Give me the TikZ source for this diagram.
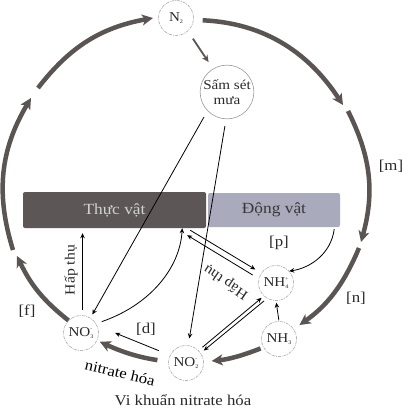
\documentclass[tikz,border=0pt]{standalone}
\usepackage{fontspec}
\setmainfont{Liberation Serif}[FakeStretch=1.12]
\usetikzlibrary{arrows.meta,calc}
\definecolor{arccol}{HTML}{5A5552}
\definecolor{plantcol}{HTML}{5C5756}
\definecolor{animalcol}{HTML}{A9AABC}
\definecolor{ringcol}{HTML}{9A9A9A}
\definecolor{txtcol}{HTML}{2A2A2A}
\newcommand\chemion[2]{\makebox[0pt][l]{\raisebox{6pt}{\fontsize{5}{5}\selectfont #1}}\raisebox{-2pt}{\fontsize{5.5}{5.5}\selectfont #2}}
\begin{document}
\begin{tikzpicture}[x=1pt,y=-1pt,font=\fontsize{15}{17}\selectfont,text=txtcol,
  bigarrow/.style={draw=arccol,line width=4.5pt,-{Stealth[length=11pt,width=11pt,inset=3pt]}},
  thinarrow/.style={draw=black,line width=0.8pt,-{Stealth[length=5pt,width=4.5pt]}},
  species/.style={circle,draw=ringcol,dash pattern=on 3pt off 1pt on 0.8pt off 1pt,line width=0.5pt,minimum size=35pt,inner sep=0pt,fill=white,font=\fontsize{13.5}{15}\selectfont},
  lbl/.style={font=\fontsize{15}{17}\selectfont}]
\useasboundingbox (0,0) rectangle (419,409);
\fill[white] (0,0) rectangle (419,409);

% organism boxes
\node[fill=plantcol,rounded corners=2pt,minimum width=183pt,minimum height=36pt,inner sep=0pt,text=white!82!black,font=\fontsize{15.5}{17}\selectfont] (plants) at (114.5,210) {Thực vật};
\node[fill=animalcol,rounded corners=2pt,minimum width=132pt,minimum height=34pt,inner sep=0pt,text=black!78,font=\fontsize{15.5}{17}\selectfont] (animals) at (274,210) {Động vật};

% species
\node[species] (n2) at (176,18) {N\raisebox{-2pt}{\fontsize{5.5}{5.5}\selectfont 2}};
\node[circle,draw=ringcol,line width=0.6pt,minimum size=53pt,inner sep=0pt,align=center,font=\fontsize{13.5}{15.5}\selectfont] (rain) at (227,92) {Sấm sét\\mưa};
\node[species] (no3) at (81,333) {NO\chemion{-}{3}};
\node[species] (no2) at (186,363) {NO\chemion{-}{2}};
\node[species] (nh3) at (279,339) {NH\chemion{}{3}};
\node[species] (nh4) at (276,283) {NH\chemion{+}{4}};

% free points of the big cycle
\coordinate (c1) at (17,256);
\coordinate (c2) at (13,250);
\coordinate (c3) at (31,98);
\coordinate (c4) at (38,88);
\coordinate (c5) at (153,18);
\coordinate (c6) at (343,105);
\coordinate (c7) at (348,111);
\coordinate (c8) at (361,242);
\coordinate (c9) at (359,248);

% big cycle
\draw[bigarrow] (no3.135) to[bend left=13] (c1);
\draw[bigarrow] (c2) to[bend left=24] (c3);
\draw[bigarrow] (c4) to[bend left=21] (c5);
\draw[bigarrow,shorten <=9pt] (n2.-6) to[bend left=27] (c6);
\draw[bigarrow] (c7) to[bend left=21] (c8);
\draw[bigarrow,shorten >=7pt] (c9) to[bend left=16] (nh3.34);
\draw[bigarrow,shorten <=3pt,shorten >=8pt] (nh3.208) to[bend left=8] (no2.4);
\draw[bigarrow,shorten <=11pt,shorten >=3pt] (no2.176) to[bend left=8] (no3.-25);

% thin connectors
\draw[draw=arccol,line width=1.8pt,-{Stealth[length=7pt,width=6.5pt]},shorten <=9pt,shorten >=8pt] (n2.-48) -- (rain.121);
\draw[thinarrow,shorten <=7pt,shorten >=4pt] (rain.224) -- (no3.58);
\draw[thinarrow,shorten <=7pt,shorten >=7pt] (rain.268) -- (no2.83);
\draw[thinarrow,shorten <=5pt,shorten >=5pt] (no3.85) -- (no3.85 |- plants.south);
\draw[thinarrow,shorten <=6pt] (no3.32) .. controls (150,305) and (180,268) .. ($(plants.south east)+(-24,0)$);
\draw[thinarrow,shorten >=7pt] ($(plants.south east)+(-16,2)$) -- (nh4.146);
\draw[thinarrow,shorten <=7pt] (nh4.166) -- ($(plants.south east)+(-19,7)$);
\draw[thinarrow] ($(animals.south east)+(-6,2)$) .. controls (331,254) and (310,268) .. (nh4.42);
\draw[thinarrow,shorten <=1pt,shorten >=2pt] (nh3.north) -- (nh4.south);
\draw[thinarrow,shorten <=5pt,shorten >=3pt] (no2.45) -- (nh4.227);
\draw[thinarrow,shorten <=4pt,shorten >=4pt] (nh4.240) -- (no2.34);
\draw[thinarrow,shorten <=12pt] (no2.154) -- ($(no3.east)+(16.5,0)$);

% labels
\node[lbl] (lm) at (391,166) {[m]};
\node[lbl] (ln) at (356,298) {[n]};
\node[lbl] (lp) at (279,243) {[p]};
\node[lbl] (lf) at (27,311) {[f]};
\node[lbl] (ld) at (146,329) {[d]};
\node[lbl,rotate=90,font=\fontsize{14}{16}\selectfont] (h1) at (71,270) {Hấp thụ};
\node[lbl,rotate=146,font=\fontsize{14}{16}\selectfont] (h2) at (226,282) {Hấp thụ};
\node[lbl,text=black,rotate=-13] (nh) at (120,373) {nitrate hóa};
\node[lbl] (vk) at (183,400) {Vi khuẩn nitrate hóa};
\end{tikzpicture}
\end{document}
